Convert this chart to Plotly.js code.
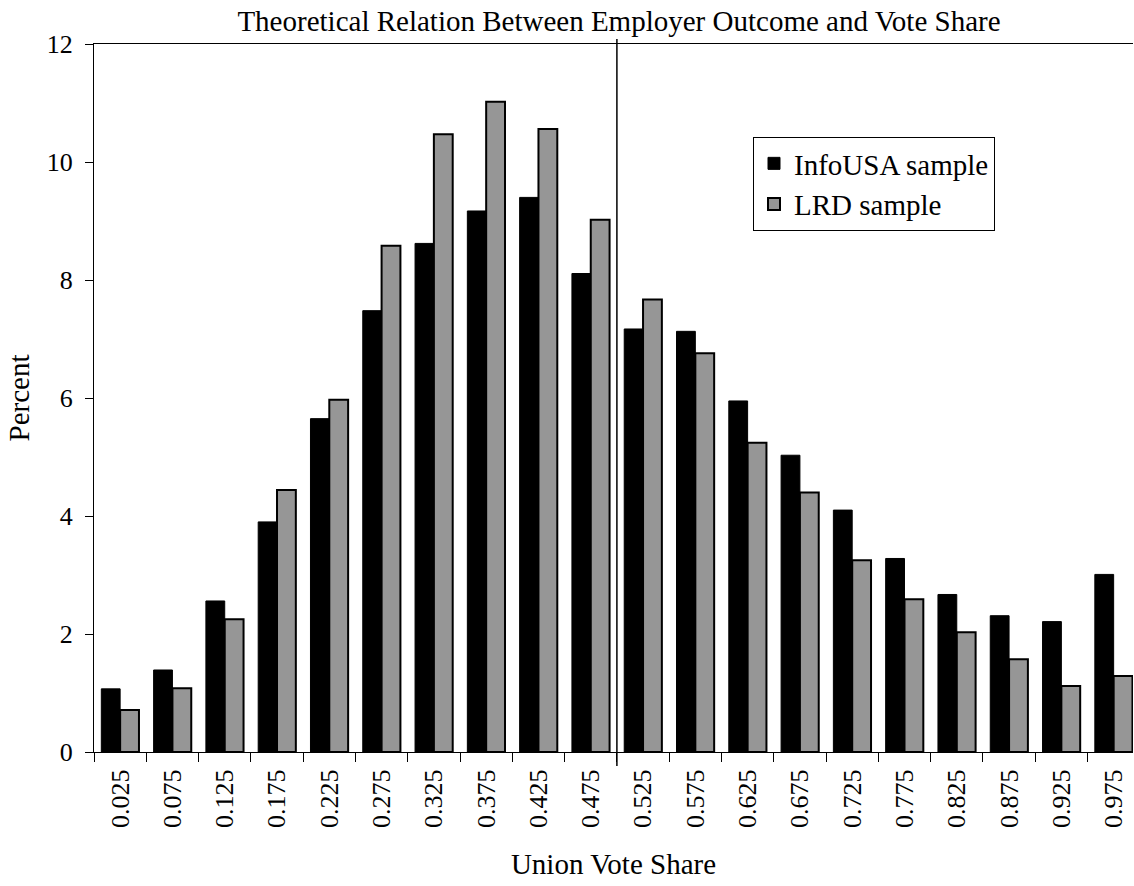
<!DOCTYPE html>
<html>
<head>
<meta charset="utf-8">
<script src="https://cdn.plot.ly/plotly-3.0.1.min.js"></script>
<style>
  html, body { margin: 0; padding: 0; background: #ffffff; }
  #chart { width: 1134px; height: 886px; }
</style>
</head>
<body>
<div id="chart"></div>
<script>
const categories = ["0.025","0.075","0.125","0.175","0.225","0.275","0.325","0.375","0.425","0.475",
                    "0.525","0.575","0.625","0.675","0.725","0.775","0.825","0.875","0.925","0.975"];
const infoUSA = [1.07, 1.39, 2.56, 3.90, 5.65, 7.48, 8.62, 9.17, 9.40, 8.11,
                 7.17, 7.13, 5.95, 5.03, 4.10, 3.28, 2.67, 2.31, 2.21, 3.01];
const lrd = [0.71, 1.08, 2.25, 4.44, 5.97, 8.58, 10.47, 11.02, 10.56, 9.02,
             7.67, 6.76, 5.24, 4.40, 3.25, 2.59, 2.03, 1.57, 1.12, 1.29];
const seriesNames = ["InfoUSA sample", "LRD sample"];
const titleText = "Theoretical Relation Between Employer Outcome and Vote Share";
const xTitle = "Union Vote Share";
const yTitle = "Percent";

const FONT = '"Liberation Serif", "Times New Roman", Times, serif';

const traces = [
  {
    type: 'bar', x: categories, y: infoUSA, name: seriesNames[0],
    marker: { color: '#000000', line: { color: '#000000', width: 1 } }
  },
  {
    type: 'bar', x: categories, y: lrd, name: seriesNames[1],
    marker: { color: '#969696', line: { color: '#000000', width: 2 } }
  }
];

const layout = {
  width: 1134, height: 886,
  paper_bgcolor: '#ffffff', plot_bgcolor: '#ffffff',
  margin: { l: 94, r: 1, t: 44, b: 134, autoexpand: false },
  font: { family: FONT, color: '#000000', size: 26 },
  title: {
    text: titleText,
    font: { family: FONT, size: 29, color: '#000000' },
    x: 619 / 1134, xanchor: 'center', xref: 'container',
    y: 1 - 21 / 886, yanchor: 'middle', yref: 'container'
  },
  barmode: 'group',
  bargap: 0.28,
  bargroupgap: 0,
  showlegend: true,
  legend: {
    x: (753 - 94) / 1039, y: (752 - 137) / 708, xanchor: 'left', yanchor: 'top',
    bgcolor: '#ffffff', bordercolor: '#000000', borderwidth: 1,
    font: { family: FONT, size: 29, color: '#000000' },
    traceorder: 'normal'
  },
  xaxis: {
    type: 'category',
    range: [-0.5, 19.37],
    showgrid: false, zeroline: false,
    showline: true, linecolor: '#000000', linewidth: 1, mirror: true,
    ticks: 'outside', tickson: 'boundaries', ticklen: 9, tickcolor: '#000000', tickwidth: 1,
    tickangle: -90,
    ticklabelstandoff: 6,
    tickfont: { family: FONT, size: 26, color: '#000000' },
    title: { text: xTitle, font: { family: FONT, size: 29, color: '#000000' }, standoff: 26 },
    fixedrange: true
  },
  yaxis: {
    range: [0, 12],
    tickvals: [0, 2, 4, 6, 8, 10, 12],
    ticktext: ['0', '2', '4', '6', '8', '10', '12'],
    showgrid: false, zeroline: false,
    showline: true, linecolor: '#000000', linewidth: 1,
    ticks: 'outside', ticklen: 8, tickcolor: '#000000', tickwidth: 1,
    ticklabelstandoff: 7,
    tickfont: { family: FONT, size: 26, color: '#000000' },
    title: { text: yTitle, font: { family: FONT, size: 29, color: '#000000' }, standoff: 8 },
    fixedrange: true
  },
  shapes: [
    {
      type: 'line', xref: 'x', yref: 'paper',
      x0: 9.5, x1: 9.5, y0: -14 / 708, y1: 713 / 708,
      line: { color: '#000000', width: 1.5 }
    }
  ]
};

Plotly.newPlot('chart', traces, layout, { staticPlot: true, displayModeBar: false });
</script>
</body>
</html>
